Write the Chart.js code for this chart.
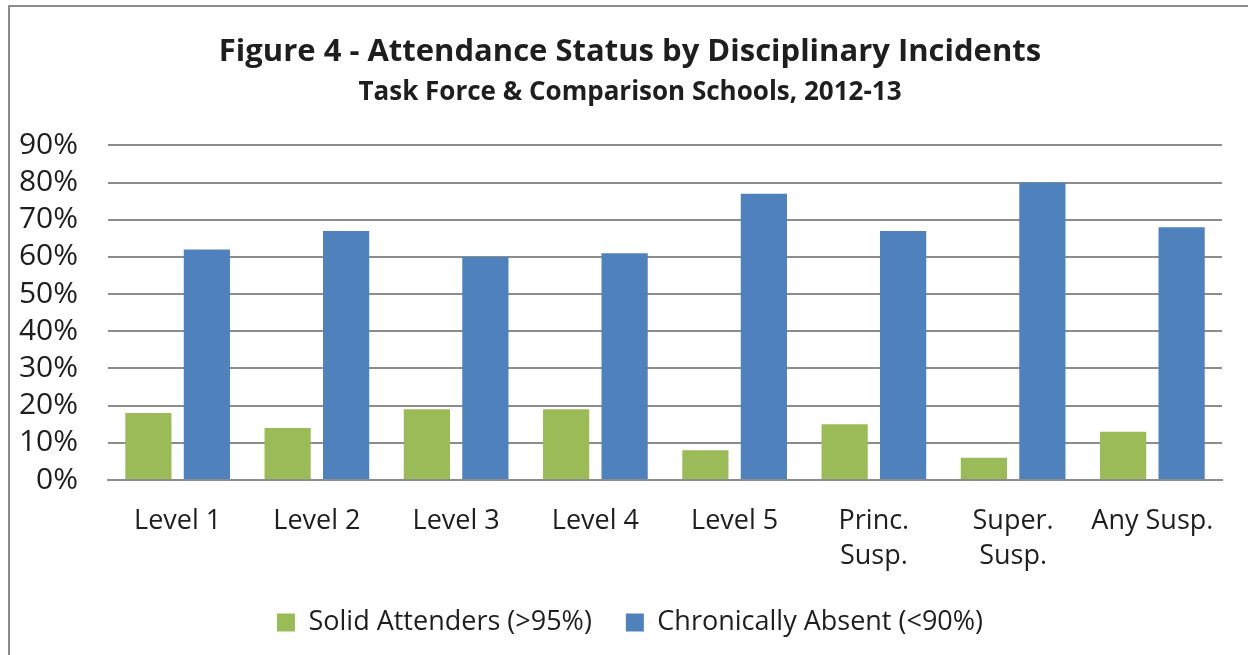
<!DOCTYPE html>
<html>
<head>
  <meta charset="UTF-8">
  <title>Figure 4 - Attendance Status by Disciplinary Incidents</title>
  <script src="https://cdn.jsdelivr.net/npm/chart.js"></script>
  <style>
    body { margin: 0; background: #fff; overflow: hidden; }
    .frame { position: absolute; left: 8px; top: 5px; width: 1260px; height: 680px; border: 2px solid #8c8c8c; box-sizing: border-box; }
    .wrap { position: absolute; left: 0; top: 0; width: 1260px; height: 655px; }
  </style>
</head>
<body>
  <div class="frame"></div>
  <div class="wrap"><canvas id="chart"></canvas></div>

  <script>
    // data
    const categories = ['Level 1', 'Level 2', 'Level 3', 'Level 4', 'Level 5', ['Princ.', 'Susp.'], ['Super.', 'Susp.'], 'Any Susp.'];
    const solidAttenders = [18, 14, 19, 19, 8, 15, 6, 13];
    const chronicallyAbsent = [62, 67, 60, 61, 77, 67, 80, 68];
    const yTicks = [0, 10, 20, 30, 40, 50, 60, 70, 80, 90];

    const font = '"Open Sans", Lato, sans-serif';
    const ink = '#1e1e1e';

    new Chart(document.getElementById('chart'), {
      type: 'bar',
      data: {
        labels: categories,
        datasets: [
          { label: 'Solid Attenders (>95%)', data: solidAttenders, backgroundColor: '#9bbb59' },
          { label: 'Chronically Absent (<90%)', data: chronicallyAbsent, backgroundColor: '#4f81bd' }
        ]
      },
      options: {
        responsive: true,
        maintainAspectRatio: false,
        animation: false,
        layout: { padding: { left: 10, right: 10, top: 34, bottom: 9 } },
        plugins: {
          title: {
            display: true,
            text: 'Figure 4 - Attendance Status by Disciplinary Incidents',
            color: ink,
            font: { family: font, size: 31, weight: 'bold' },
            padding: { top: 0, bottom: 4 }
          },
          subtitle: {
            display: true,
            text: 'Task Force & Comparison Schools, 2012-13',
            color: ink,
            font: { family: font, size: 26, weight: 'bold' },
            padding: { top: 2, bottom: 37 }
          },
          legend: {
            position: 'bottom',
            labels: {
              color: ink,
              font: { family: font, size: 27 },
              boxWidth: 18,
              boxHeight: 18,
              padding: 34
            }
          },
          tooltip: { enabled: false }
        },
        datasets: {
          bar: { categoryPercentage: 0.84, barPercentage: 0.79 }
        },
        scales: {
          x: {
            afterFit: s => { s.height = 95; },
            grid: { display: false, drawTicks: false },
            border: { color: '#8c8c8c', width: 2 },
            ticks: {
              color: ink,
              font: { family: font, size: 27, lineHeight: 1.3 },
              padding: 24,
              maxRotation: 0
            }
          },
          y: {
            min: 0,
            max: 90,
            afterFit: s => { s.width = 98; },
            afterBuildTicks: s => { s.ticks = yTicks.map(v => ({ value: v })); },
            grid: { color: '#8c8c8c', lineWidth: 2, drawTicks: false },
            border: { display: false },
            ticks: {
              autoSkip: false,
              color: ink,
              font: { family: font, size: 30 },
              padding: 30,
              callback: v => v + '%'
            }
          },
          // empty spacer on the right so titles and legend centre like the original
          spacer: {
            type: 'linear',
            position: 'right',
            afterFit: s => { s.width = 28; },
            grid: { display: false },
            border: { display: false },
            ticks: { display: false }
          }
        }
      }
    });
  </script>
</body>
</html>
